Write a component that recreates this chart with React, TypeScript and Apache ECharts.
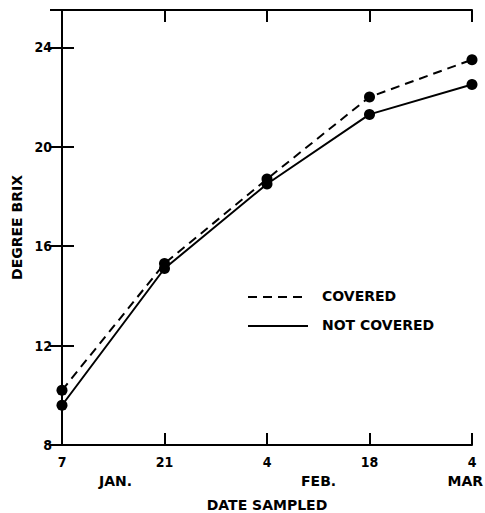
import React, { useEffect, useRef } from "react";
import * as echarts from "echarts";

// days after Jan 7
const sampleDays = [0, 14, 28, 42, 56];
const dayLabels = ["7", "21", "4", "18", "4"];
const monthLabels = ["JAN.", "FEB.", "MAR"];
const covered = [10.2, 15.3, 18.7, 22.0, 23.5];
const notCovered = [9.6, 15.1, 18.5, 21.3, 22.5];
const seriesNames = ["COVERED", "NOT COVERED"];

const FONT = "DejaVu Sans";
const COND = "DejaVu Sans Condensed";

export default function App() {
  const ref = useRef<HTMLDivElement>(null);
  useEffect(() => {
    if (!ref.current) return;
    const chart = echarts.init(ref.current, undefined, { renderer: "svg" });
    const axisLine = { show: true, lineStyle: { color: "#000", width: 2 } };
    const tick = { show: true, inside: true, length: 12, lineStyle: { color: "#000", width: 2 } };
    const lbl = { color: "#000", fontFamily: COND, fontWeight: "bold" as const, fontSize: 14 };
    const txt = `bold 14px "${FONT}"`;
    chart.setOption({
      animation: false,
      backgroundColor: "#fff",
      grid: { left: 62, right: 13, top: 10, bottom: 68, outerBoundsMode: "none", containLabel: false },
      xAxis: [
        {
          type: "value",
          min: 0,
          max: 56,
          interval: 14,
          position: "bottom",
          axisLine,
          axisTick: tick,
          splitLine: { show: false },
          axisLabel: {
            ...lbl,
            margin: 10,
            formatter: (v: number) => {
              const i = sampleDays.indexOf(v);
              return i >= 0 ? dayLabels[i] : "";
            },
          },
          name: "DATE SAMPLED",
          nameLocation: "middle",
          nameGap: 53,
          nameTextStyle: { color: "#000", fontFamily: FONT, fontWeight: "bold", fontSize: 14 },
        },
        {
          type: "value",
          min: 0,
          max: 56,
          interval: 14,
          position: "top",
          axisLine,
          axisTick: tick,
          splitLine: { show: false },
          axisLabel: { show: false },
        },
      ],
      yAxis: [
        {
          type: "value",
          min: 8,
          max: 25.5,
          interval: 4,
          position: "left",
          axisLine,
          axisTick: tick,
          splitLine: { show: false },
          axisLabel: {
            ...lbl,
            margin: 10,
            showMaxLabel: false,
            formatter: (v: number) => (v % 4 === 0 ? String(v) : ""),
          },
          name: "DEGREE BRIX",
          nameLocation: "middle",
          nameGap: 34,
          nameTextStyle: { color: "#000", fontFamily: FONT, fontWeight: "bold", fontSize: 14 },
        },
        {
          type: "value",
          min: 8,
          max: 25.5,
          interval: 4,
          position: "right",
          axisLine,
          axisTick: tick,
          splitLine: { show: false },
          axisLabel: { show: false },
        },
      ],
      series: [
        {
          name: seriesNames[0],
          type: "line",
          data: sampleDays.map((d, i) => [d, covered[i]]),
          symbol: "circle",
          symbolSize: 11,
          itemStyle: { color: "#000" },
          lineStyle: { color: "#000", width: 2, type: [9, 6] },
          z: 3,
        },
        {
          name: seriesNames[1],
          type: "line",
          data: sampleDays.map((d, i) => [d, notCovered[i]]),
          symbol: "circle",
          symbolSize: 11,
          itemStyle: { color: "#000" },
          lineStyle: { color: "#000", width: 2, type: "solid" },
          z: 3,
        },
      ],
      graphic: [
        { type: "text", left: 99, top: 474, style: { text: monthLabels[0], fill: "#000", font: txt } },
        { type: "text", left: 301, top: 474, style: { text: monthLabels[1], fill: "#000", font: txt } },
        { type: "text", right: 2, top: 474, style: { text: monthLabels[2], fill: "#000", font: txt } },
        { type: "line", shape: { x1: 248, y1: 297, x2: 308, y2: 297 }, style: { stroke: "#000", lineWidth: 2, lineDash: [9, 6] } },
        { type: "line", shape: { x1: 248, y1: 326, x2: 308, y2: 326 }, style: { stroke: "#000", lineWidth: 2 } },
        { type: "text", left: 322, top: 289, style: { text: seriesNames[0], fill: "#000", font: txt } },
        { type: "text", left: 322, top: 318, style: { text: seriesNames[1], fill: "#000", font: txt } },
      ],
    });
    return () => chart.dispose();
  }, []);
  return (
    <div
      ref={ref}
      style={{ position: "absolute", left: 0, top: 0, width: 485, height: 513 }}
    />
  );
}
